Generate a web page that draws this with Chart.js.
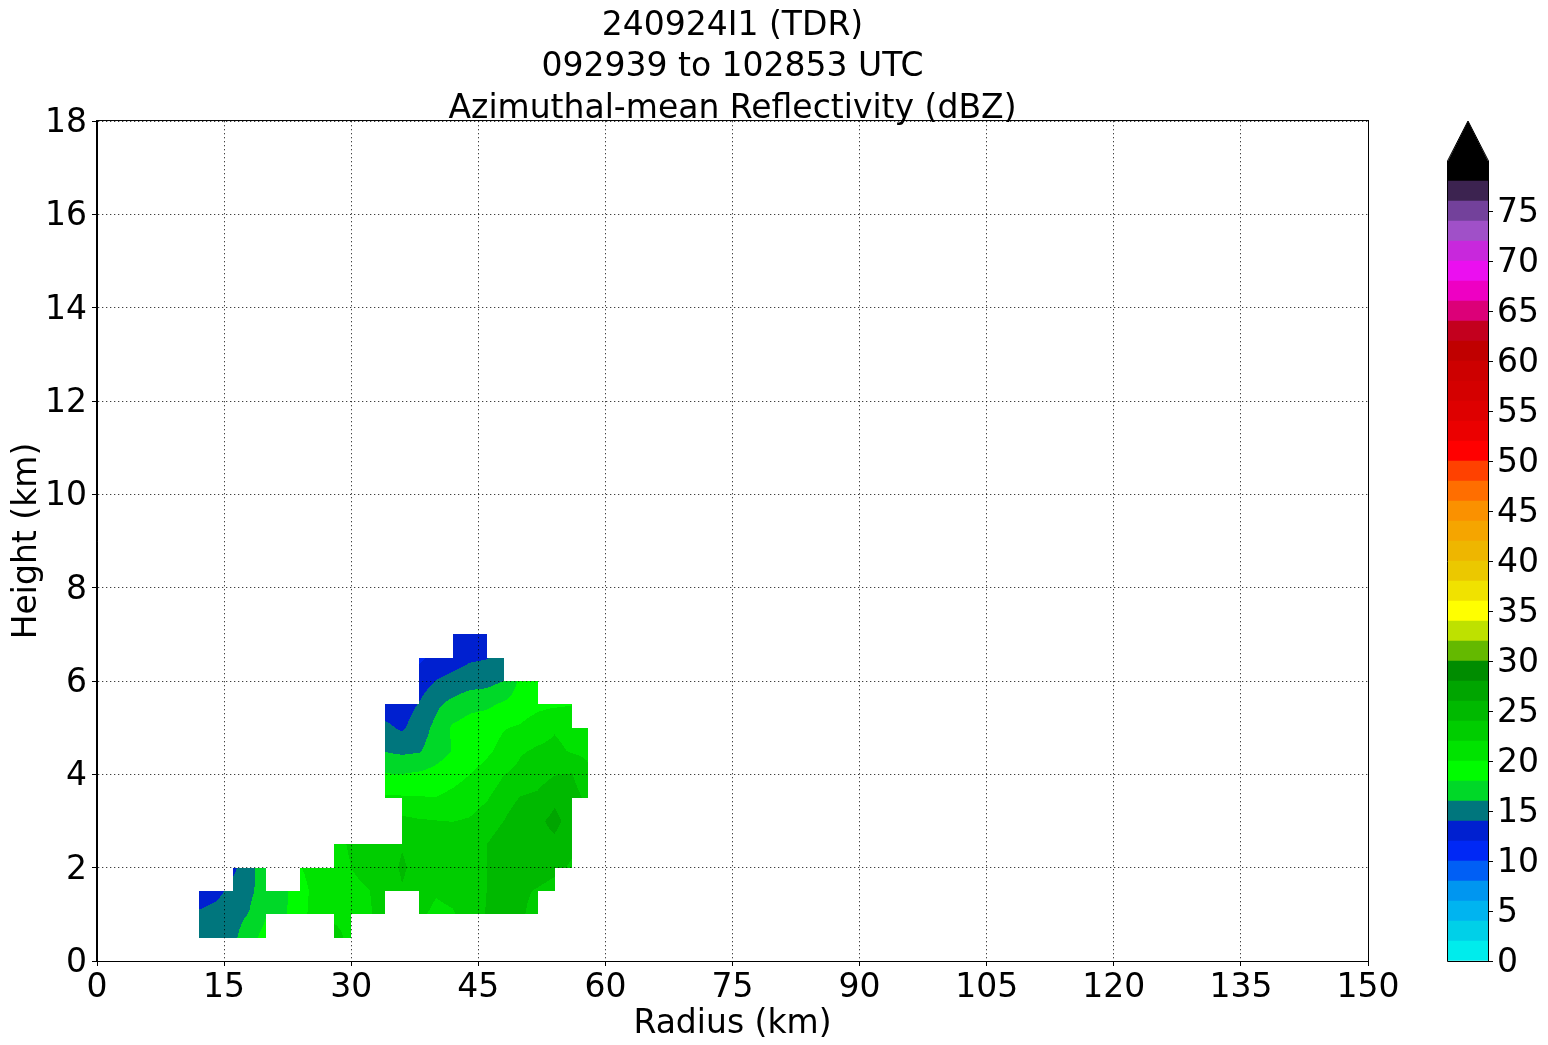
<!DOCTYPE html>
<html>
<head>
<meta charset="utf-8">
<script src="https://cdn.jsdelivr.net/npm/chart.js"></script>
<style>
  html, body { margin: 0; padding: 0; background: #fff; }
  #wrap { position: relative; width: 1548px; height: 1045px; }
  #main { position: absolute; left: 0; top: 0; }
  #cbar { position: absolute; left: 1420px; top: 0; }
</style>
</head>
<body>
<div id="wrap">
  <canvas id="main" width="1548" height="1045"></canvas>
  <canvas id="cbar" width="128" height="1045"></canvas>
</div>
<script>
// grid of the azimuthal-mean field (radius in km, height in km)
const radii = [12, 14, 16, 18, 20, 22, 24, 26, 28, 30, 32, 34, 36, 38, 40, 42, 44, 46, 48, 50, 52, 54, 56, 58];
const heights = [0.5, 1.0, 1.5, 2.0, 2.5, 3.0, 3.5, 4.0, 4.5, 5.0, 5.5, 6.0, 6.5, 7.0];

const _ = null;
// reflectivity (dBZ), one row per height, one column per radius
const dbz = [
  [15.0, 15.1, 15.5, 17.3, 18.8, _, _, _, 22.6, 21.5, _, _, _, _, _, _, _, _, _, _, _, _, _, _],
  [14.3, 14.7, 15.2, 16.1, 17.9, 17.6, 19.3, 21.0, 21.6, 21.5, 21.8, 22.6, _, 22.4, 21.5, 21.8, 23.0, 24.1, 24.6, 24.3, 23.2, _, _, _],
  [12.8, 13.4, 14.6, 15.6, 17.0, 17.6, 19.2, 20.8, 21.1, 21.4, 21.9, 22.8, 23.9, 23.3, 22.2, 22.6, 23.5, 24.0, 24.6, 24.4, 23.8, 23.1, _, _],
  [_, _, 13.5, 15.5, 17.0, _, 19.9, 21.0, 21.3, 22.0, 22.8, 23.3, 24.2, 23.5, 23.4, 23.5, 23.7, 24.0, 24.8, 25.1, 25.2, 24.6, 23.7, _],
  [_, _, _, _, _, _, _, _, 21.5, 22.2, 22.8, 23.3, 23.9, 23.4, 23.3, 23.4, 23.7, 24.0, 25.0, 25.3, 25.4, 25.6, 24.5, _],
  [_, _, _, _, _, _, _, _, _, _, _, _, 22.5, 22.2, 22.05, 21.95, 22.2, 23.0, 24.0, 25.2, 25.6, 26.5, 25.3, _],
  [_, _, _, _, _, _, _, _, _, _, _, 20.2, 20.2, 20.1, 20.05, 20.5, 21.0, 21.8, 23.1, 24.1, 24.4, 25.6, 24.8, 23.5],
  [_, _, _, _, _, _, _, _, _, _, _, 18.1, 18.05, 18.3, 18.7, 19.3, 20.0, 20.6, 21.95, 22.6, 23.1, 23.9, 24.1, 22.5],
  [_, _, _, _, _, _, _, _, _, _, _, 15.9, 15.6, 15.8, 17.0, 18.1, 19.1, 19.7, 20.5, 21.8, 22.3, 22.5, 21.8, 21.5],
  [_, _, _, _, _, _, _, _, _, _, _, 14.4, 13.7, 15.0, 16.5, 18.3, 18.9, 19.3, 19.9, 20.2, 21.0, 21.8, 21.2, 21.0],
  [_, _, _, _, _, _, _, _, _, _, _, 13.0, 13.1, 14.1, 15.6, 16.6, 17.4, 17.6, 18.3, 19.0, 19.5, 19.7, 19.95, _],
  [_, _, _, _, _, _, _, _, _, _, _, _, _, 13.0, 14.05, 14.6, 15.1, 15.3, 16.0, 18.5, 19.0, _, _, _],
  [_, _, _, _, _, _, _, _, _, _, _, _, _, 11.6, 12.6, 13.1, 13.7, 13.9, 15.0, _, _, _, _, _],
  [_, _, _, _, _, _, _, _, _, _, _, _, _, _, _, 13.0, 13.2, 13.3, _, _, _, _, _, _]
];

// contour levels and the colour of each band
const levels = [0, 2, 4, 6, 8, 10, 12, 14, 16, 18, 20, 22, 24, 26, 28, 30, 32, 34, 36, 38, 40,
                42, 44, 46, 48, 50, 52, 54, 56, 58, 60, 62, 64, 66, 68, 70, 72, 74, 76, 78, 80];
const levelColors = [
  "rgb(0,236,236)", "rgb(0,208,232)", "rgb(0,180,240)", "rgb(0,150,240)", "rgb(0,95,245)",
  "rgb(0,40,245)", "rgb(0,32,208)", "rgb(0,118,125)", "rgb(0,216,40)", "rgb(0,252,0)",
  "rgb(0,227,0)", "rgb(0,205,0)", "rgb(0,185,0)", "rgb(0,165,0)", "rgb(0,140,0)",
  "rgb(100,185,0)", "rgb(190,225,0)", "rgb(255,255,0)", "rgb(240,226,0)", "rgb(235,200,0)",
  "rgb(238,182,0)", "rgb(245,165,0)", "rgb(250,145,0)", "rgb(255,110,0)", "rgb(255,65,0)",
  "rgb(255,0,0)", "rgb(235,0,0)", "rgb(222,0,0)", "rgb(212,0,0)", "rgb(205,0,0)",
  "rgb(192,0,0)", "rgb(195,0,30)", "rgb(220,0,120)", "rgb(238,0,195)", "rgb(235,15,240)",
  "rgb(200,40,220)", "rgb(160,80,200)", "rgb(115,65,155)", "rgb(60,35,80)", "rgb(0,0,0)"
];
const overColor = "rgb(0,0,0)";

const xTicks = [0, 15, 30, 45, 60, 75, 90, 105, 120, 135, 150];
const yTicks = [0, 2, 4, 6, 8, 10, 12, 14, 16, 18];
const cbarTicks = [0, 5, 10, 15, 20, 25, 30, 35, 40, 45, 50, 55, 60, 65, 70, 75];
const titleLines = ["240924I1 (TDR)", "092939 to 102853 UTC", "Azimuthal-mean Reflectivity (dBZ)"];

Chart.defaults.font.family = "'DejaVu Sans', sans-serif";
Chart.defaults.color = "#000";

const colorFor = (val) => {
  if (val < levels[0]) return null;
  if (val >= levels[levels.length - 1]) return overColor;
  for (let k = 0; k < levels.length - 1; k++) {
    if (val >= levels[k] && val < levels[k + 1]) return levelColors[k];
  }
  return null;
};

// filled contours: each grid cell is shaded by interpolating its four corners,
// cells touching missing data are left blank (like contourf)
const contourFill = {
  id: "contourFill",
  beforeDraw(chart) {
    const { ctx } = chart;
    const xs = chart.scales.x;
    const ys = chart.scales.y;
    ctx.save();
    for (let j = 0; j < heights.length - 1; j++) {
      for (let i = 0; i < radii.length - 1; i++) {
        const f00 = dbz[j][i], f10 = dbz[j][i + 1];
        const f01 = dbz[j + 1][i], f11 = dbz[j + 1][i + 1];
        if (f00 === null || f10 === null || f01 === null || f11 === null) continue;

        const xa = xs.getPixelForValue(radii[i]);
        const xb = xs.getPixelForValue(radii[i + 1]);
        const ya = ys.getPixelForValue(heights[j]);
        const yb = ys.getPixelForValue(heights[j + 1]);
        const px0 = Math.round(xa), px1 = Math.round(xb);

        for (let py = Math.round(yb); py < Math.round(ya); py++) {
          const v = (ya - (py + 0.5)) / (ya - yb);
          let runStart = px0;
          let runColor = null;
          for (let px = px0; px <= px1; px++) {
            let color = null;
            if (px < px1) {
              const u = (px + 0.5 - xa) / (xb - xa);
              const val = f00 * (1 - u) * (1 - v) + f10 * u * (1 - v) + f01 * (1 - u) * v + f11 * u * v;
              color = colorFor(val);
            }
            if (color !== runColor) {
              if (runColor) {
                ctx.fillStyle = runColor;
                ctx.fillRect(runStart, py, px - runStart, 1);
              }
              runColor = color;
              runStart = px;
            }
          }
        }
      }
    }
    ctx.restore();
  }
};

const axesFrame = {
  id: "axesFrame",
  afterDraw(chart) {
    const { ctx, chartArea: a } = chart;
    ctx.save();
    ctx.strokeStyle = "#000";
    ctx.lineWidth = 1;
    ctx.strokeRect(a.left - 0.5, a.top - 0.5, a.right - a.left + 1, a.bottom - a.top + 1);
    ctx.restore();
  }
};

new Chart(document.getElementById("main"), {
  type: "scatter",
  data: { datasets: [] },
  options: {
    responsive: false,
    animation: false,
    layout: { padding: { left: 0, right: 180, top: 0, bottom: 0 } },
    plugins: {
      legend: { display: false },
      tooltip: { enabled: false },
      title: {
        display: true,
        fullSize: false,
        text: titleLines,
        color: "#000",
        font: { size: 33, weight: "normal", lineHeight: 1.27 },
        padding: { top: 5, bottom: -9.7 }
      }
    },
    scales: {
      x: {
        type: "linear",
        min: 0,
        max: 150,
        afterBuildTicks: (s) => { s.ticks = xTicks.map((v) => ({ value: v })); },
        afterFit: (s) => { s.height = 84; },
        ticks: { font: { size: 33 }, color: "#000", padding: 3, maxRotation: 0, autoSkip: false },
        grid: { color: "rgba(0,0,0,0.75)", lineWidth: 1, tickLength: 5, tickColor: "#000", tickWidth: 1 },
        border: { display: true, color: "#000", width: 1, dash: [1.3, 2.7] },
        title: { display: true, text: "Radius (km)", color: "#000", font: { size: 33 }, padding: { top: 0, bottom: 1 } }
      },
      y: {
        type: "linear",
        min: 0,
        max: 18,
        afterBuildTicks: (s) => { s.ticks = yTicks.map((v) => ({ value: v })); },
        afterFit: (s) => { s.width = 97; },
        ticks: { font: { size: 33 }, color: "#000", padding: 5, labelOffset: 2.5, autoSkip: false },
        grid: { color: "rgba(0,0,0,0.75)", lineWidth: 1, tickLength: 5, tickColor: "#000", tickWidth: 1 },
        border: { display: true, color: "#000", width: 1, dash: [1.3, 2.7] },
        title: { display: true, text: "Height (km)", color: "#000", font: { size: 33 }, padding: { top: 8, bottom: 0 } }
      }
    }
  },
  plugins: [contourFill, axesFrame]
});

// colour bar with the "max" extension triangle on top
const extendFrac = 0.05;
const cbarOutline = {
  id: "cbarOutline",
  afterDraw(chart) {
    const { ctx, chartArea: a } = chart;
    const yTop = chart.scales.y.getPixelForValue(levels[levels.length - 1]);
    const apex = yTop - extendFrac * (a.bottom - a.top);
    const mid = (a.left + a.right) / 2;
    ctx.save();
    ctx.fillStyle = overColor;
    ctx.beginPath();
    ctx.moveTo(a.left, yTop);
    ctx.lineTo(mid, apex);
    ctx.lineTo(a.right, yTop);
    ctx.closePath();
    ctx.fill();
    ctx.strokeStyle = "#000";
    ctx.lineWidth = 1;
    ctx.beginPath();
    ctx.moveTo(a.left - 0.5, a.bottom + 0.5);
    ctx.lineTo(a.left - 0.5, yTop);
    ctx.lineTo(mid, apex);
    ctx.lineTo(a.right + 0.5, yTop);
    ctx.lineTo(a.right + 0.5, a.bottom + 0.5);
    ctx.closePath();
    ctx.stroke();
    ctx.restore();
  }
};

new Chart(document.getElementById("cbar"), {
  type: "bar",
  data: {
    labels: [""],
    datasets: levelColors.map((c, k) => ({
      data: [[levels[k], levels[k + 1]]],
      backgroundColor: c,
      borderWidth: 0,
      grouped: false,
      barPercentage: 1,
      categoryPercentage: 1
    }))
  },
  options: {
    responsive: false,
    animation: false,
    layout: { padding: { left: 28, right: 0, top: 161, bottom: 84 } },
    plugins: { legend: { display: false }, tooltip: { enabled: false } },
    scales: {
      x: { display: false },
      y: {
        position: "right",
        min: 0,
        max: 80,
        afterBuildTicks: (s) => { s.ticks = cbarTicks.map((v) => ({ value: v })); },
        afterFit: (s) => { s.width = 60; },
        ticks: { font: { size: 33 }, color: "#000", padding: 4, labelOffset: 2.5, autoSkip: false },
        grid: { drawOnChartArea: false, tickLength: 5, tickColor: "#000", tickWidth: 1 },
        border: { display: true, color: "#000", width: 1 }
      }
    }
  },
  plugins: [cbarOutline]
});
</script>
</body>
</html>
